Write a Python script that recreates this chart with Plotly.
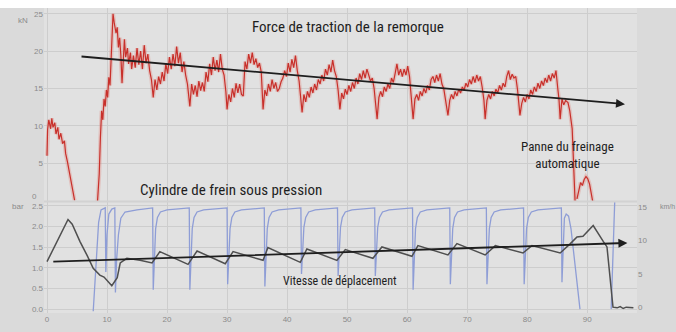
import plotly.graph_objects as go

# ---------------- data ----------------
# Force de traction de la remorque (kN) vs time
force_x = (
    [0.0, 0.1, 0.3, 0.6, 0.8, 1.0, 1.3, 1.5, 1.8, 2.0, 2.3, 2.6, 2.9, 3.1, 3.4, 3.7, 4.0, 4.3, 4.6, None]
    + [8.4, 8.7, 8.9, 9.1, 9.3, 9.5, 9.7, 9.9, 10.1, 10.3, 10.5, 10.7, 10.9, 11.0, 11.2, 11.5, 11.7, 11.9, 12.1, 12.3,
       12.5, 12.7, 12.9, 13.1, 13.4, 13.6, 13.9, 14.1, 14.4, 14.7, 15.0, 15.3, 15.6, 15.9, 16.2, 16.5, 16.8, 17.1, 17.4, 17.7]
    + [18.0, 18.3, 18.6, 18.9, 19.2, 19.5, 19.8, 20.1, 20.4, 20.7, 21.0, 21.3, 21.6, 21.9, 22.2, 22.5, 22.8, 23.1, 23.4, 23.8]
    + [24.1, 24.4, 24.7, 25.0, 25.3, 25.6, 25.9, 26.2, 26.5, 26.8, 27.1, 27.4, 27.7, 28.0, 28.3, 28.6, 28.9, 29.2, 29.5, 29.8, 30.0]
    + [30.3, 30.6, 30.9, 31.2, 31.5, 31.8, 32.1, 32.4, 32.7, 33.0, 33.3, 33.6, 33.9, 34.2, 34.5, 34.8, 35.1, 35.4, 35.7, 36.0]
    + [36.3, 36.6, 36.9, 37.2, 37.5, 37.8, 38.1, 38.4, 38.7, 39.0, 39.3, 39.6, 39.9, 40.2, 40.5, 40.8, 41.1, 41.4, 41.7, 42.0, 42.5]
    + [42.8, 43.1, 43.4, 43.7, 44.0, 44.3, 44.6, 44.9, 45.2, 45.5, 45.8, 46.1, 46.4, 46.7, 47.0, 47.3, 47.6, 47.9, 48.2, 48.5, 48.8]
    + [49.1, 49.4, 49.7, 50.0, 50.3, 50.6, 50.9, 51.2, 51.5, 51.8, 52.1, 52.4, 52.7, 53.0, 53.3, 53.6, 53.9, 54.2, 54.5, 55.0]
    + [55.3, 55.6, 55.9, 56.2, 56.5, 56.8, 57.1, 57.4, 57.7, 58.0, 58.3, 58.6, 58.9, 59.2, 59.5, 59.8, 60.1, 60.4, 60.7, 61.0]
    + [61.3, 61.6, 61.9, 62.2, 62.5, 62.8, 63.1, 63.4, 63.7, 64.0, 64.3, 64.6, 64.9, 65.2, 65.5, 65.8, 66.1, 66.4, 66.8]
    + [67.1, 67.4, 67.7, 68.0, 68.3, 68.6, 68.9, 69.2, 69.5, 69.8, 70.1, 70.4, 70.7, 71.0, 71.3, 71.6, 71.9, 72.2, 72.5, 72.8, 73.0]
    + [73.3, 73.6, 73.9, 74.2, 74.5, 74.8, 75.1, 75.4, 75.7, 76.0, 76.3, 76.6, 76.9, 77.2, 77.5, 77.8, 78.1, 78.4, 78.8]
    + [79.1, 79.4, 79.7, 80.0, 80.3, 80.6, 80.9, 81.2, 81.5, 81.8, 82.1, 82.4, 82.7, 83.0, 83.3, 83.6, 83.9, 84.2, 84.5, 84.8, 85.1, 85.3, 85.5]
    + [85.8, 86.1, 86.4, 86.8, 87.1, 87.5, 87.7, 88.0, None, 88.3, 88.6, 88.9, 89.2, 89.5, 89.8, 90.1, 90.4, 90.7, 91.0]
)
force_kn = (
    [6.0, 9.5, 10.8, 9.6, 11.0, 9.8, 10.4, 8.9, 9.8, 8.2, 9.0, 7.6, 8.0, 6.3, 5.2, 3.8, 2.6, 1.2, 0.0, None]
    + [-0.3, 3.5, 8.5, 12.0, 10.8, 13.6, 12.6, 14.8, 13.8, 16.5, 15.4, 18.5, 22.0, 25.0, 23.8, 22.4, 23.2, 20.5, 21.8, 19.5,
       15.7, 19.0, 21.6, 19.2, 20.4, 18.3, 19.8, 17.6, 19.4, 17.8, 20.4, 18.2, 20.0, 17.6, 20.8, 18.4, 19.6, 17.4, 16.2, 13.8]
    + [16.2, 14.8, 16.6, 15.6, 17.2, 16.0, 18.3, 17.0, 19.2, 17.6, 19.6, 18.0, 20.6, 18.4, 19.8, 17.2, 18.6, 16.8, 15.6, 12.6]
    + [15.6, 14.2, 15.4, 13.9, 16.0, 14.7, 15.8, 14.6, 17.2, 15.9, 18.3, 16.8, 19.2, 17.4, 18.8, 17.2, 19.6, 17.6, 16.8, 14.6, 12.2]
    + [14.2, 13.2, 15.0, 13.8, 15.7, 14.4, 15.6, 14.2, 14.0, 18.6, 17.6, 19.6, 18.4, 19.8, 18.2, 19.0, 17.8, 18.4, 17.2, 12.2]
    + [14.8, 14.0, 15.6, 14.6, 16.2, 15.0, 15.8, 14.6, 15.0, 15.9, 16.4, 17.4, 16.6, 18.4, 17.2, 18.9, 17.8, 19.4, 17.4, 16.0, 11.8]
    + [14.2, 13.2, 14.6, 13.8, 15.2, 14.4, 15.6, 14.8, 16.2, 15.6, 16.8, 16.0, 17.6, 16.8, 18.2, 17.2, 18.8, 17.4, 16.6, 14.8, 12.2]
    + [14.4, 13.6, 14.9, 14.2, 15.4, 14.6, 15.8, 15.0, 16.4, 15.6, 17.0, 16.2, 17.4, 16.4, 17.6, 16.6, 16.0, 16.4, 15.0, 10.9]
    + [13.8, 14.6, 13.9, 15.2, 14.6, 15.6, 15.0, 16.4, 15.8, 17.0, 18.3, 16.8, 17.6, 16.6, 17.6, 16.8, 18.0, 16.6, 14.2, 10.9]
    + [13.6, 14.2, 13.4, 14.6, 14.0, 15.0, 14.4, 15.4, 14.8, 16.2, 16.6, 15.8, 16.8, 16.0, 17.0, 15.6, 15.0, 13.6, 11.4]
    + [13.4, 14.2, 13.6, 14.6, 14.0, 14.9, 14.4, 15.2, 14.8, 15.7, 15.2, 16.2, 15.6, 16.6, 15.8, 16.8, 16.0, 16.6, 15.2, 13.4, 10.9]
    + [13.4, 14.2, 13.6, 14.6, 14.0, 14.9, 14.4, 15.4, 14.8, 15.7, 15.2, 16.6, 17.4, 16.2, 16.9, 16.4, 16.6, 14.8, 11.4]
    + [13.0, 13.8, 13.2, 14.2, 13.6, 14.8, 14.2, 15.2, 14.6, 15.7, 15.0, 16.0, 15.4, 16.4, 15.8, 16.8, 16.0, 17.0, 16.4, 17.4, 15.0, 13.6, 10.9]
    + [13.6, 12.8, 13.4, 13.1, 12.0, 9.6, 5.3, -0.5, None, 0.2, 1.5, 2.4, 2.0, 2.8, 3.2, 2.9, 2.2, 1.0, -0.5]
)

# Cylindre de frein sous pression (bar)
pressure_x = (
    [7.7, 8.0, 8.3, 8.6, 9.0, 9.5, 9.7, 9.8, 10.0, 10.3, 10.8, 11.3, 11.4, 11.6, 11.9, 12.3, 13.0, 15.0, 17.6]
    + [17.7, 17.9, 18.1, 18.4, 18.9, 20.0, 23.7]
    + [23.8, 24.0, 24.2, 24.5, 25.0, 26.1, 30.0]
    + [30.1, 30.3, 30.5, 30.8, 31.3, 32.4, 36.2]
    + [36.3, 36.5, 36.7, 37.0, 37.5, 38.6, 42.3]
    + [42.4, 42.6, 42.8, 43.1, 43.6, 44.7, 48.4]
    + [48.5, 48.7, 48.9, 49.2, 49.7, 50.8, 54.6]
    + [54.7, 54.9, 55.1, 55.4, 55.9, 57.0, 60.9]
    + [61.0, 61.2, 61.4, 61.7, 62.2, 63.3, 67.1]
    + [67.2, 67.4, 67.6, 67.9, 68.4, 69.5, 73.2]
    + [73.3, 73.5, 73.7, 74.0, 74.5, 75.6, 79.4]
    + [79.5, 79.7, 79.9, 80.2, 80.7, 81.8, 85.7]
    + [85.8, 86.0, 86.2, 86.5, 86.9, 87.3, 87.7, 88.1, 88.5, 88.8, None]
    + [94.0, 94.2, 94.4, 94.6]
)
pressure_bar = (
    [-0.05, 0.6, 1.5, 2.1, 2.4, 2.45, 2.45, 0.9, 1.8, 2.3, 2.42, 2.45, 0.4, 1.2, 1.8, 2.2, 2.35, 2.4, 2.45]
    + [0.47, 1.4, 1.95, 2.22, 2.35, 2.4, 2.45]
    + [0.47, 1.4, 1.95, 2.22, 2.35, 2.4, 2.45]
    + [0.6, 1.45, 1.95, 2.22, 2.35, 2.4, 2.45]
    + [0.55, 1.45, 1.95, 2.22, 2.35, 2.4, 2.45]
    + [0.85, 1.5, 1.98, 2.22, 2.35, 2.4, 2.45]
    + [0.8, 1.5, 1.98, 2.22, 2.35, 2.4, 2.45]
    + [0.8, 1.5, 1.98, 2.22, 2.35, 2.4, 2.45]
    + [0.47, 1.4, 1.95, 2.22, 2.35, 2.4, 2.45]
    + [0.6, 1.45, 1.95, 2.22, 2.35, 2.4, 2.45]
    + [0.6, 1.45, 1.95, 2.22, 2.35, 2.4, 2.45]
    + [0.6, 1.45, 1.95, 2.22, 2.35, 2.4, 2.45]
    + [0.65, 1.6, 2.2, 2.3, 2.25, 1.95, 1.4, 0.8, 0.3, 0.0, None]
    + [0.0, 1.0, 2.0, 2.65]
)

# Vitesse de déplacement (km/h)
speed_x = [0.0, 1.0, 2.0, 3.0, 3.5, 4.2, 5.5, 6.7, 7.7, 8.8, 9.5, 10.8, 11.7, 12.2, 13.3, 15.5, 17.5,
           18.8, 23.5, 25.0, 29.7, 31.0, 36.0, 36.8, 42.2, 43.3, 48.3, 49.7, 54.3, 55.8, 60.8, 61.8,
           66.8, 68.3, 73.0, 74.7, 79.3, 80.8, 85.5, 87.2, 88.3, 89.3, 91.0, 92.7, 93.3, 94.3, 95.0,
           95.5, 96.0, 96.5, 97.7]
speed_kmh = [6.8, 8.6, 10.6, 12.4, 13.1, 12.4, 9.8, 7.7, 5.8, 4.8, 4.5, 3.2, 4.4, 6.6, 7.3, 7.0, 6.6,
             8.3, 6.4, 8.4, 6.5, 8.3, 7.0, 8.9, 6.7, 8.7, 7.0, 8.6, 7.3, 9.0, 7.6, 9.2,
             7.8, 9.5, 7.8, 9.2, 8.1, 9.2, 8.1, 9.5, 10.5, 10.6, 12.2, 9.8, 9.0, 0.0, -0.1,
             0.1, -0.2, 0.0, -0.1]

# trend arrows (tail -> head)
trend_force_x = [5.5, 96.3]
trend_force_kn = [19.3, 12.9]
trend_speed_x = [0.8, 96.7]
trend_speed_kmh = [6.8, 9.6]

x_ticks = [0, 10, 20, 30, 40, 50, 60, 70, 80, 90]
force_ticks = [5, 10, 15, 20, 25]
pressure_ticks = [0.0, 0.5, 1.0, 1.5, 2.0, 2.5]
pressure_ticktext = ["0.0", "0.5", "1.0", "1.5", "2.0", "2.5"]
speed_ticks = [0, 5, 10, 15]

assert len(force_x) == len(force_kn)
assert len(pressure_x) == len(pressure_bar)
assert len(speed_x) == len(speed_kmh)

# ---------------- figure ----------------
TEXT_FONT = "Liberation Sans Narrow, Roboto Condensed, Arial Narrow, Roboto, sans-serif"
SMALL_FONT = dict(family="Liberation Sans, Arial, sans-serif", size=8, color="#8a8a8a")
GRID = "#cdcdcd"

fig = go.Figure()
fig.add_trace(go.Scatter(x=force_x, y=force_kn, mode="lines", xaxis="x", yaxis="y",
                         line=dict(color="rgba(226,120,110,0.30)", width=4), hoverinfo="skip"))
fig.add_trace(go.Scatter(x=force_x, y=force_kn, mode="lines", xaxis="x", yaxis="y",
                         line=dict(color="#c8302b", width=1.2)))
fig.add_trace(go.Scatter(x=pressure_x, y=pressure_bar, mode="lines", xaxis="x2", yaxis="y2",
                         line=dict(color="#8e9dd6", width=1.3)))
fig.add_trace(go.Scatter(x=speed_x, y=speed_kmh, mode="lines", xaxis="x2", yaxis="y3",
                         line=dict(color="#4f4f4f", width=1.5)))

xr = [-0.5, 98.3]
fig.update_layout(
    width=676, height=332, autosize=False,
    margin=dict(l=44, r=39, t=8, b=11),
    paper_bgcolor="#dadada",
    plot_bgcolor="#e1e1e1",
    showlegend=False,
    xaxis=dict(domain=[0, 1], range=xr, anchor="y", tickvals=x_ticks, showticklabels=False,
               showgrid=True, gridcolor=GRID, zeroline=False, showline=False),
    xaxis2=dict(domain=[0, 1], range=xr, anchor="y2", tickvals=x_ticks, showticklabels=True,
                tickfont=SMALL_FONT, ticks="", showgrid=True, gridcolor=GRID, zeroline=False, showline=False),
    yaxis=dict(domain=[0.3674, 1], range=[-0.065, 25.78], tickvals=force_ticks, tickfont=SMALL_FONT,
               ticks="", showgrid=True, gridcolor=GRID, zeroline=False, anchor="x"),
    yaxis2=dict(domain=[0, 0.3642], range=[-0.094, 2.594], tickvals=pressure_ticks,
                ticktext=pressure_ticktext, tickfont=SMALL_FONT, ticks="", showgrid=True,
                gridcolor=GRID, zeroline=False, anchor="x2"),
    yaxis3=dict(overlaying="y2", side="right", range=[-0.87, 15.73], tickvals=speed_ticks,
                tickfont=SMALL_FONT, ticks="", showgrid=False, zeroline=False, anchor="x2"),
)

# white strip at the very top
fig.add_shape(type="rect", xref="paper", yref="paper", x0=-0.2, x1=1.2, y0=1.0, y1=1.03,
              fillcolor="white", line=dict(width=0), layer="above")
# separation between the two panels
fig.add_shape(type="line", xref="paper", yref="paper", x0=0, x1=1, y0=0.3658, y1=0.3658,
              line=dict(color="#d2d2d2", width=2))

# trend arrows
fig.add_annotation(x=trend_force_x[1], y=trend_force_kn[1], ax=trend_force_x[0], ay=trend_force_kn[0],
                   xref="x", yref="y", axref="x", ayref="y", text="", showarrow=True,
                   arrowhead=2, arrowsize=1.0, arrowwidth=1.8, arrowcolor="#1e1e1e")
fig.add_annotation(x=trend_speed_x[1], y=trend_speed_kmh[1], ax=trend_speed_x[0], ay=trend_speed_kmh[0],
                   xref="x2", yref="y3", axref="x2", ayref="y3", text="", showarrow=True,
                   arrowhead=2, arrowsize=1.0, arrowwidth=1.8, arrowcolor="#1e1e1e")

# texts
fig.add_annotation(x=50.2, y=23.3, xref="x", yref="y", text="Force de traction de la remorque",
                   showarrow=False, font=dict(family=TEXT_FONT, size=15, color="#1e1e1e"))
fig.add_annotation(x=30.7, y=1.4, xref="x", yref="y", text="Cylindre de frein sous pression",
                   showarrow=False, font=dict(family=TEXT_FONT, size=15, color="#1e1e1e"))
fig.add_annotation(x=86.7, y=6.1, xref="x", yref="y", text="Panne du freinage<br>automatique",
                   showarrow=False, font=dict(family=TEXT_FONT, size=13, color="#1e1e1e"))
fig.add_annotation(x=48.8, y=3.9, xref="x2", yref="y3", text="Vitesse de déplacement",
                   showarrow=False, font=dict(family=TEXT_FONT, size=12, color="#1e1e1e"))

# axis unit labels and the top panel's zero label
fig.add_annotation(x=-0.047, y=0.981, xref="paper", yref="paper", text="kN", showarrow=False,
                   font=SMALL_FONT)
fig.add_annotation(x=-0.008, y=0.383, xref="paper", yref="paper", text="0", showarrow=False,
                   xanchor="right", font=SMALL_FONT)
fig.add_annotation(x=-0.058, y=0.348, xref="paper", yref="paper", text="bar", showarrow=False,
                   font=SMALL_FONT)
fig.add_annotation(x=1.035, y=0.348, xref="paper", yref="paper", text="km/h", showarrow=False,
                   xanchor="left", font=dict(family="Liberation Sans, Arial, sans-serif", size=7, color="#8a8a8a"))

fig.write_html("out.html", config={"displayModeBar": False},
               post_script="document.body.style.margin='0px';document.body.style.overflow='hidden';")
